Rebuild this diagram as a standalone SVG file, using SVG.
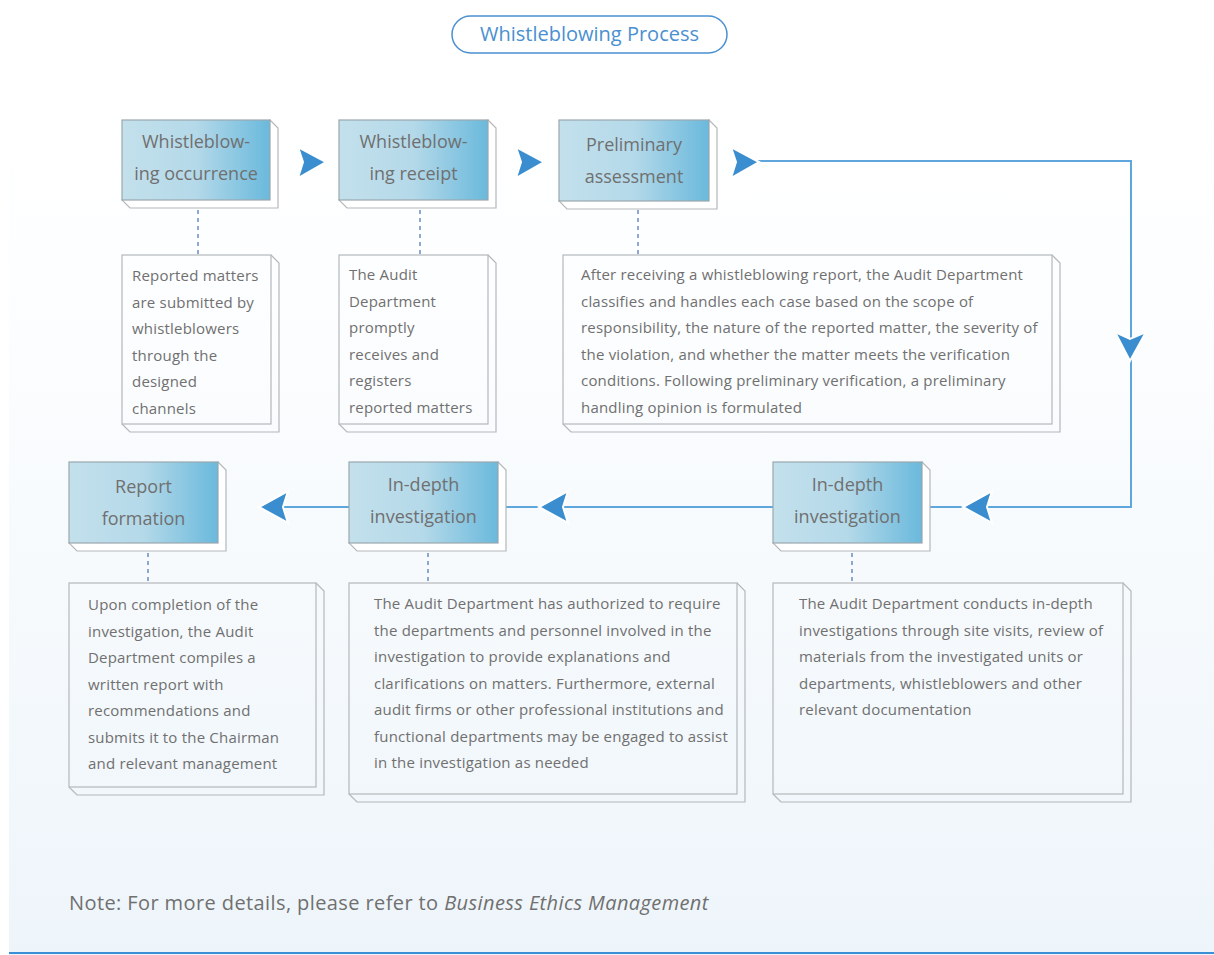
<svg xmlns="http://www.w3.org/2000/svg" width="1214" height="955" viewBox="0 0 1214 955">
<defs>
<linearGradient id="bg" x1="0" y1="0" x2="0" y2="1">
<stop offset="0" stop-color="#ffffff"/>
<stop offset="0.25" stop-color="#fdfeff"/>
<stop offset="1" stop-color="#eef5fa"/>
</linearGradient>
<linearGradient id="nodeFill" x1="0" y1="0" x2="1" y2="0">
<stop offset="0" stop-color="#c3e0ec"/>
<stop offset="0.5" stop-color="#b4d9e9"/>
<stop offset="1" stop-color="#6ab9dc"/>
</linearGradient>
<linearGradient id="lineL" x1="0" y1="0" x2="1" y2="0">
<stop offset="0" stop-color="#8fc0e6" stop-opacity="0"/>
<stop offset="1" stop-color="#7db3df"/>
</linearGradient>
<linearGradient id="lineR" x1="0" y1="0" x2="1" y2="0">
<stop offset="0" stop-color="#7db3df"/>
<stop offset="1" stop-color="#8fc0e6" stop-opacity="0"/>
</linearGradient>
<style>
.front{fill:url(#nodeFill);stroke:#9aa7ad;stroke-width:1.2}
.side{fill:#ffffff;stroke:#b4b8bb;stroke-width:1.2}
.tbox{fill:none;stroke:#b4b8bb;stroke-width:1.2}
.lbl{font-family:"Open Sans","Noto Sans",sans-serif;font-size:18px;fill:#707070;text-anchor:middle}
.desc{font-family:"Open Sans","Noto Sans",sans-serif;font-size:15px;letter-spacing:0.2px;fill:#707070}
.conn{fill:none;stroke:#5ea6dc;stroke-width:2}
.dash{fill:none;stroke:#6a8cc4;stroke-width:1.5;stroke-dasharray:4 4}
.ah{fill:#3a8ecf;stroke:#ffffff;stroke-width:2;stroke-linejoin:miter}
</style>
</defs>

<rect x="9" y="35" width="1205" height="920" fill="url(#bg)"/>
<line x1="9" y1="953" x2="1214" y2="953" stroke="#3a8fd6" stroke-width="2"/>

<g id="title">
<line x1="90" y1="35" x2="452" y2="35" stroke="url(#lineL)" stroke-width="1.5"/>
<line x1="727" y1="35" x2="1160" y2="35" stroke="url(#lineR)" stroke-width="1.5"/>
<rect x="452" y="16" width="275" height="37" rx="18.5" fill="#ffffff" stroke="#4a90d0" stroke-width="1.5"/>
<text x="589.5" y="41" font-family="'Open Sans','Noto Sans',sans-serif" font-size="20" fill="#4a90d0" text-anchor="middle">Whistleblowing Process</text>
</g>

<g id="connectors">
<line class="dash" x1="198" y1="210" x2="198" y2="255"/>
<line class="dash" x1="420" y1="210" x2="420" y2="255"/>
<line class="dash" x1="638" y1="210" x2="638" y2="255"/>
<line class="dash" x1="148" y1="553" x2="148" y2="583"/>
<line class="dash" x1="428" y1="553" x2="428" y2="583"/>
<line class="dash" x1="852" y1="553" x2="852" y2="583"/>
<polyline class="conn" points="756,161 1131,161 1131,507 922,507"/>
<line class="conn" x1="773" y1="507" x2="498" y2="507"/>
<line class="conn" x1="349" y1="507" x2="262" y2="507"/>
<path class="ah" d="M326,162 L298,147 L303,162 L298,178 Z"/>
<path class="ah" d="M544,162 L516,147 L521,162 L516,178 Z"/>
<path class="ah" d="M759,162 L731,147 L736,162 L731,178 Z"/>
<path class="ah" d="M1130,361 L1115,332 L1130,339 L1146,332 Z"/>
<path class="ah" d="M963,507 L992,491 L987,507 L992,523 Z"/>
<path class="ah" d="M539,507 L568,491 L563,507 L568,523 Z"/>
<path class="ah" d="M259,507 L288,491 L283,507 L288,523 Z"/>
</g>

<g id="node-occurrence">
<path class="side" d="M270,120 L278,128 L278,208 L130,208 L122,200 Z"/>
<rect class="front" x="122" y="120" width="148" height="80"/>
<text class="lbl" x="196" y="148">Whistleblow-</text>
<text class="lbl" x="196" y="180">ing occurrence</text>
</g>
<g id="node-receipt">
<path class="side" d="M488,120 L496,128 L496,208 L347,208 L339,200 Z"/>
<rect class="front" x="339" y="120" width="149" height="80"/>
<text class="lbl" x="413.5" y="148">Whistleblow-</text>
<text class="lbl" x="413.5" y="180">ing receipt</text>
</g>
<g id="node-assessment">
<path class="side" d="M709,120 L717,128 L717,209 L567,209 L559,201 Z"/>
<rect class="front" x="559" y="120" width="150" height="81"/>
<text class="lbl" x="634" y="151">Preliminary</text>
<text class="lbl" x="634" y="183">assessment</text>
</g>
<g id="node-report">
<path class="side" d="M218,462 L226,470 L226,551 L77,551 L69,543 Z"/>
<rect class="front" x="69" y="462" width="149" height="81"/>
<text class="lbl" x="143.5" y="493">Report</text>
<text class="lbl" x="143.5" y="525">formation</text>
</g>
<g id="node-indepth-2">
<path class="side" d="M498,462 L506,470 L506,551 L357,551 L349,543 Z"/>
<rect class="front" x="349" y="462" width="149" height="81"/>
<text class="lbl" x="423.5" y="491">In-depth</text>
<text class="lbl" x="423.5" y="523">investigation</text>
</g>
<g id="node-indepth-1">
<path class="side" d="M922,462 L930,470 L930,551 L781,551 L773,543 Z"/>
<rect class="front" x="773" y="462" width="149" height="81"/>
<text class="lbl" x="847.5" y="491">In-depth</text>
<text class="lbl" x="847.5" y="523">investigation</text>
</g>

<g id="desc-occurrence">
<path class="tbox" d="M271,255 L279,263 L279,432 L130,432 L122,424"/>
<rect class="tbox" x="122" y="255" width="149" height="169"/>
<text class="desc" x="132" y="281">Reported matters</text>
<text class="desc" x="132" y="307.5">are submitted by</text>
<text class="desc" x="132" y="334">whistleblowers</text>
<text class="desc" x="132" y="360.5">through the</text>
<text class="desc" x="132" y="387">designed</text>
<text class="desc" x="132" y="413.5">channels</text>
</g>
<g id="desc-receipt">
<path class="tbox" d="M488,255 L496,263 L496,432 L347,432 L339,424"/>
<rect class="tbox" x="339" y="255" width="149" height="169"/>
<text class="desc" x="349" y="280">The Audit</text>
<text class="desc" x="349" y="306.5">Department</text>
<text class="desc" x="349" y="333">promptly</text>
<text class="desc" x="349" y="359.5">receives and</text>
<text class="desc" x="349" y="386">registers</text>
<text class="desc" x="349" y="412.5">reported matters</text>
</g>
<g id="desc-assessment">
<path class="tbox" d="M1052,255 L1060,263 L1060,432 L571,432 L563,424"/>
<rect class="tbox" x="563" y="255" width="489" height="169"/>
<text class="desc" x="581" y="280">After receiving a whistleblowing report, the Audit Department</text>
<text class="desc" x="581" y="306.5">classifies and handles each case based on the scope of</text>
<text class="desc" x="581" y="333">responsibility, the nature of the reported matter, the severity of</text>
<text class="desc" x="581" y="359.5">the violation, and whether the matter meets the verification</text>
<text class="desc" x="581" y="386">conditions. Following preliminary verification, a preliminary</text>
<text class="desc" x="581" y="412.5">handling opinion is formulated</text>
</g>
<g id="desc-report">
<path class="tbox" d="M316,583 L324,591 L324,795 L77,795 L69,787"/>
<rect class="tbox" x="69" y="583" width="247" height="204"/>
<text class="desc" x="88" y="610">Upon completion of the</text>
<text class="desc" x="88" y="636.5">investigation, the Audit</text>
<text class="desc" x="88" y="663">Department compiles a</text>
<text class="desc" x="88" y="689.5">written report with</text>
<text class="desc" x="88" y="716">recommendations and</text>
<text class="desc" x="88" y="742.5">submits it to the Chairman</text>
<text class="desc" x="88" y="769">and relevant management</text>
</g>
<g id="desc-indepth-2">
<path class="tbox" d="M737,583 L745,591 L745,802 L357,802 L349,794"/>
<rect class="tbox" x="349" y="583" width="388" height="211"/>
<text class="desc" x="374" y="609">The Audit Department has authorized to require</text>
<text class="desc" x="374" y="635.5">the departments and personnel involved in the</text>
<text class="desc" x="374" y="662">investigation to provide explanations and</text>
<text class="desc" x="374" y="688.5">clarifications on matters. Furthermore, external</text>
<text class="desc" x="374" y="715">audit firms or other professional institutions and</text>
<text class="desc" x="374" y="741.5">functional departments may be engaged to assist</text>
<text class="desc" x="374" y="768">in the investigation as needed</text>
</g>
<g id="desc-indepth-1">
<path class="tbox" d="M1123,583 L1131,591 L1131,802 L781,802 L773,794"/>
<rect class="tbox" x="773" y="583" width="350" height="211"/>
<text class="desc" x="799" y="609">The Audit Department conducts in-depth</text>
<text class="desc" x="799" y="635.5">investigations through site visits, review of</text>
<text class="desc" x="799" y="662">materials from the investigated units or</text>
<text class="desc" x="799" y="688.5">departments, whistleblowers and other</text>
<text class="desc" x="799" y="715">relevant documentation</text>
</g>

<text x="69" y="910" font-family="'Open Sans','Noto Sans',sans-serif" font-size="20" letter-spacing="0.4" fill="#707070">Note: For more details, please refer to <tspan font-style="italic">Business Ethics Management</tspan></text>
</svg>
